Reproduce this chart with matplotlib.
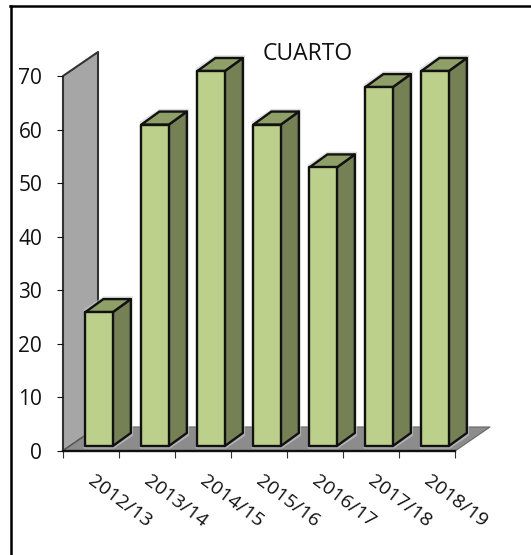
import matplotlib
matplotlib.use("Agg")
import matplotlib.pyplot as plt
from matplotlib.patches import Polygon
from matplotlib.lines import Line2D

plt.rcParams['font.family'] = ['Open Sans', 'DejaVu Sans']

seasons = ["2012/13", "2013/14", "2014/15", "2015/16", "2016/17", "2017/18", "2018/19"]
values = [25, 60, 70, 60, 52, 67, 70]
yticks = [0, 10, 20, 30, 40, 50, 60, 70]

W, H = 531, 555
fig = plt.figure(figsize=(W / 100, H / 100), dpi=100)
ax = fig.add_axes([63 / W, 1 - 451 / H, 392 / W, 375 / H])
ax.set_xlim(0, 7)
ax.set_ylim(0, 70)
ax.patch.set_visible(False)

# px -> data scale for the fake 3d depth
ux = 56.0
uy = 375 / 70

wall_dx, wall_dy = 35 / ux, 24 / uy
bar_dx, bar_dy = 18 / ux, 13 / uy
bar_lo, bar_hi = 0.40, 0.89
base = 5 / uy


def poly(pts, color, z, lw=1.7, edge='#111111'):
    ax.add_patch(Polygon(pts, closed=True, facecolor=color, edgecolor=edge,
                         linewidth=lw, joinstyle='round', clip_on=False, zorder=z))


# back wall and floor
poly([(0, 0), (wall_dx, wall_dy), (wall_dx, 70 + wall_dy), (0, 70)], '#a6a6a6', 1, lw=1.5, edge='#333333')
poly([(0, 0), (7, 0), (7 + wall_dx, wall_dy), (wall_dx, wall_dy)], '#8c8c8c', 2, lw=0.8, edge='#666666')

for i, v in enumerate(values):
    x0, x1 = i + bar_lo, i + bar_hi
    # soft shadow round the bar
    ax.add_patch(Polygon([(x0 - 0.03, base - 0.5), (x1 + 0.02, base - 0.5),
                          (x1 + bar_dx + 0.04, base + bar_dy - 0.5),
                          (x1 + bar_dx + 0.04, v + base + bar_dy + 0.5),
                          (x0 + bar_dx, v + base + bar_dy + 0.5),
                          (x0 - 0.03, v + base + 0.5)],
                         closed=True, facecolor='#c8c8c8', edgecolor='none', alpha=0.6,
                         clip_on=False, zorder=3 + i))
    poly([(x1, base), (x1 + bar_dx, base + bar_dy), (x1 + bar_dx, v + base + bar_dy), (x1, v + base)],
         '#768055', 4 + i)
    poly([(x0, v + base), (x1, v + base), (x1 + bar_dx, v + base + bar_dy), (x0 + bar_dx, v + base + bar_dy)],
         '#8f9f68', 4 + i)
    poly([(x0, base), (x1, base), (x1, v + base), (x0, v + base)], '#bcd08c', 4 + i)

for s in ['top', 'right', 'left']:
    ax.spines[s].set_visible(False)
ax.spines['bottom'].set_linewidth(1.7)
ax.spines['bottom'].set_color('#111111')
ax.spines['bottom'].set_zorder(20)

ax.set_yticks(yticks)
ax.set_xticks(range(8))
ax.set_xticklabels([''] * 8)
ax.tick_params(axis='y', length=4.5, width=0.8, labelsize=15, pad=10.5, colors='#111111')
ax.tick_params(axis='x', length=5, width=0.8, colors='#333333')

for i, s in enumerate(seasons):
    ax.annotate(s, xy=(i + 0.37, 0), xytext=(6, -28), textcoords='offset pixels',
                rotation=-37, rotation_mode='anchor', ha='left', va='center',
                fontsize=14, color='#111111', annotation_clip=False,
                transform_rotates_text=False)

fig.text(308 / W, 1 - 54 / H, "CUARTO", ha='center', va='center', fontsize=16.5, color='#111111')

# outer frame of the picture, only top and left show
fig.add_artist(Line2D([10.5 / W, 10.5 / W], [0, 1 - 6 / H], color='black', linewidth=1.8))
fig.add_artist(Line2D([10 / W, 1], [1 - 6 / H, 1 - 6 / H], color='black', linewidth=1.8))

fig.savefig("out.png", dpi=100)
